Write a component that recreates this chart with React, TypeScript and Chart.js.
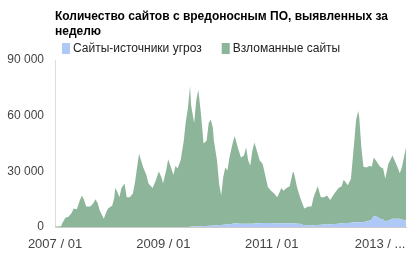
import React, { useEffect, useRef } from "react";
import { Chart, registerables } from "chart.js";

Chart.register(...registerables);

// weeks since 2007 / 01
const weeks = [
  0, 3, 6, 7, 10, 13, 16, 18, 21, 24, 26, 28, 30, 34, 37, 39, 41, 43, 47, 49,
  51, 55, 57, 58, 60, 62, 64, 67, 69, 72, 75, 77, 78, 80, 81, 82, 85, 88, 90, 94,
  97, 100, 103, 104, 107, 109, 112, 114, 116, 118, 121, 124, 126, 128, 130, 131, 132, 134, 136, 138,
  140, 142, 143, 146, 148, 150, 152, 153, 156, 158, 160, 162, 164, 166, 168, 171, 173, 176, 179, 182,
  184, 186, 188, 190, 192, 195, 197, 200, 202, 205, 208, 211, 214, 218, 220, 223, 226, 229, 230, 233,
  236, 240, 244, 247, 249, 253, 256, 259, 262, 265, 269, 273, 276, 278, 282, 285, 288, 290, 292, 293,
  295, 297, 300, 303, 305, 307, 310, 313, 316, 318, 321, 325, 327, 330, 332, 334, 336, 338,
];

// total (top of stacked area)
const totals = [
  300, 300, 500, 2000, 5000, 5500, 7500, 10000, 9500, 14500, 17000, 14500, 11000, 11000, 13000, 15000, 13000, 9000, 4500, 7500,
  10000, 11500, 15500, 21000, 19000, 16000, 21000, 23500, 16000, 16000, 18000, 24000, 28000, 36000, 39500, 37500, 32000, 28000, 23500, 21000,
  25000, 30000, 26000, 23500, 30500, 36500, 31500, 28000, 33000, 31500, 36000, 46500, 57000, 64000, 76000, 66000, 62500, 56000, 68000, 74000,
  64000, 52000, 45000, 46500, 56000, 58000, 53500, 46500, 36000, 23500, 17000, 27000, 32000, 30500, 37500, 45000, 49000, 43000, 37500, 38500,
  43000, 36000, 33000, 41000, 45500, 40000, 36000, 34000, 29000, 21500, 19500, 18000, 16000, 21000, 19500, 21000, 22000, 29500, 29500, 21500,
  16000, 10000, 11000, 11000, 16000, 22000, 16000, 16000, 17000, 14500, 18000, 21000, 22000, 25500, 22500, 26000, 45000, 58000, 62500, 59000,
  43000, 32500, 32000, 33000, 32500, 37500, 35000, 32500, 31500, 26000, 34000, 38500, 36000, 32000, 29000, 32000, 37500, 43000,
];

// "Сайты-источники угроз"
const sources = [
  0, 0, 0, 0, 0, 0, 0, 0, 0, 0, 0, 0, 0, 0, 0, 0, 0, 0, 0, 0,
  0, 0, 0, 0, 0, 0, 0, 0, 0, 0, 0, 0, 0, 0, 0, 0, 0, 0, 0, 0,
  0, 0, 0, 0, 0, 0, 0, 0, 0, 0, 0, 0, 0, 0, 200, 200, 250, 250, 300, 350,
  400, 500, 500, 600, 650, 700, 750, 800, 1000, 1050, 1100, 1200, 1300, 1400, 1500, 1800, 2000, 1900, 1800, 1800,
  1800, 1800, 1800, 1800, 1900, 2000, 2000, 2100, 2200, 2200, 2100, 2000, 2000, 2000, 2000, 2000, 2000, 2000, 2000, 1800,
  1700, 1000, 900, 900, 900, 1100, 1200, 1300, 1400, 1500, 1600, 1800, 2000, 2100, 2200, 2300, 2500, 2500, 2500, 2500,
  2500, 2700, 3000, 3500, 4000, 6000, 5500, 4500, 4000, 3000, 3500, 4500, 4500, 4500, 4500, 4000, 3800, 3500,
];

const hacked = totals.map((t, i) => Math.max(0, t - sources[i]));

const tickWeeks = [0, 104.36, 208.71, 313.07];
const tickLabels = ["2007 / 01", "2009 / 01", "2011 / 01", "2013 / ..."];

const titleLines = ["Количество сайтов с вредоносным ПО, выявленных за", "неделю"];
const seriesNames = ["Сайты-источники угроз", "Взломанные сайты"];
const seriesColors = ["#aec9f7", "#8db59a"];

const FONT = "'Liberation Sans', Arial, sans-serif";

// Title and legend drawn aligned with the plot's left edge
const headerPlugin = {
  id: "header",
  afterDraw(chart: any) {
    const ctx = chart.ctx;
    const left = chart.chartArea.left;
    ctx.save();
    ctx.textBaseline = "middle";
    ctx.textAlign = "left";
    ctx.fillStyle = "#000";
    ctx.font = `bold 12px ${FONT}`;
    titleLines.forEach((line, i) => {
      ctx.fillText(line, left, 17 + i * 15);
    });
    ctx.font = `12px ${FONT}`;
    let x = left + 7;
    const yMid = 48.5;
    chart.data.datasets.forEach((ds: any) => {
      ctx.fillStyle = ds.backgroundColor;
      ctx.fillRect(x, yMid - 5.5, 8, 11);
      ctx.fillStyle = "#222";
      ctx.fillText(ds.label, x + 11, yMid);
      x += 11 + ctx.measureText(ds.label).width + 20;
    });
    ctx.restore();
  },
};

export default function App() {
  const ref = useRef<HTMLCanvasElement | null>(null);
  useEffect(() => {
    document.body.style.margin = "0";
    if (!ref.current) return;
    const chart = new Chart(ref.current, {
      type: "line",
      data: {
        datasets: [
          {
            label: seriesNames[0],
            data: weeks.map((w, i) => ({ x: w, y: sources[i] })),
            backgroundColor: seriesColors[0],
            borderColor: seriesColors[0],
            borderWidth: 0,
            pointRadius: 0,
            fill: "origin",
          },
          {
            label: seriesNames[1],
            data: weeks.map((w, i) => ({ x: w, y: hacked[i] })),
            backgroundColor: seriesColors[1],
            borderColor: seriesColors[1],
            borderWidth: 0,
            pointRadius: 0,
            fill: "-1",
          },
        ],
      },
      plugins: [headerPlugin],
      options: {
        responsive: false,
        animation: false,
        layout: { padding: { left: 0, right: 6, top: 60, bottom: 0 } },
        plugins: {
          tooltip: { enabled: false },
          title: { display: false },
          legend: { display: false },
        },
        scales: {
          x: {
            type: "linear",
            min: 0,
            max: 338,
            grid: { display: false },
            border: { display: true, color: "#ccc" },
            afterBuildTicks: (scale: any) => {
              scale.ticks = tickWeeks.map((v) => ({ value: v }));
            },
            afterFit: (scale: any) => {
              scale.height = 34;
            },
            ticks: {
              autoSkip: false,
              maxRotation: 0,
              color: "#444",
              padding: 2,
              font: { family: FONT, size: 13 },
              callback: (_v: any, i: number) => tickLabels[i],
            },
          },
          y: {
            stacked: true,
            min: 0,
            max: 90000,
            grid: { display: false },
            border: { display: true, color: "#ddd" },
            afterFit: (scale: any) => {
              scale.width = 55;
            },
            ticks: {
              stepSize: 30000,
              color: "#444",
              padding: 3,
              font: { family: FONT, size: 12 },
              callback: (v: any) =>
                Number(v).toString().replace(/\B(?=(\d{3})+(?!\d))/g, " "),
            },
          },
        },
      },
    });
    return () => chart.destroy();
  }, []);
  return (
    <div style={{ width: 412, height: 261 }}>
      <canvas ref={ref} width={412} height={261} />
    </div>
  );
}
